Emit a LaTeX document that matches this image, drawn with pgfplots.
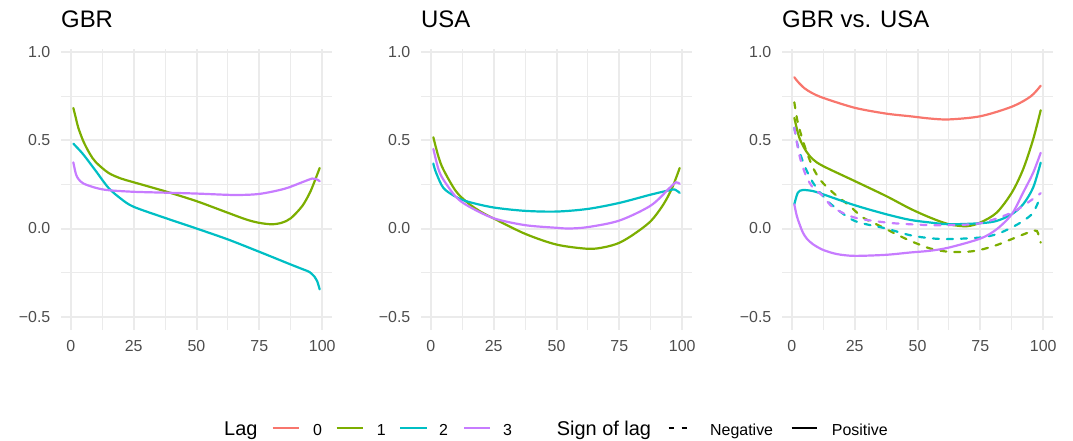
\documentclass[border=0pt]{standalone}
\usepackage{fontspec}
\setmainfont{Liberation Sans}
\usepackage{pgfplots}
\pgfplotsset{compat=1.18}
\definecolor{c0}{HTML}{F8766D}
\definecolor{c1}{HTML}{7CAE00}
\definecolor{c2}{HTML}{00BFC4}
\definecolor{c3}{HTML}{C77CFF}
\definecolor{gr}{HTML}{EBEBEB}
\definecolor{tk}{HTML}{4D4D4D}
\pgfplotsset{
 myax/.style={
  scale only axis, width=271bp, height=281bp, anchor=south west,
  xmin=-3.9, xmax=103.9, ymin=-0.575, ymax=1.017,
  axis line style={draw=none}, major tick style={draw=none}, minor tick style={draw=none},
  xtick={0,25,50,75,100}, xticklabels={0,25,50,75,100},
  ytick={-0.5,0,0.5,1}, yticklabels={−0.5,0.0,0.5,1.0},
  minor xtick={12.5,37.5,62.5,87.5}, minor ytick={-0.25,0.25,0.75},
  grid=both, major grid style={gr, line width=2bp}, minor grid style={gr, line width=1bp},
  /pgf/number format/assume math mode=true,
  ticklabel style={font=\fontsize{16}{19}\selectfont, text=tk},
  yticklabel style={inner sep=0pt, anchor=east, xshift=-10.5bp},
  xticklabel style={inner sep=0pt, anchor=north, yshift=-10.5bp},
  title style={at={(0,1)}, anchor=base west, yshift=16bp, inner sep=0pt, font=\fontsize{24}{28}\selectfont},
  every axis plot/.append style={line width=2.2bp, smooth, line cap=round},
 },
 neg/.style={dash pattern=on 6bp off 8bp}
}
\begin{document}
\begin{tikzpicture}
\path[use as bounding box] (0bp,0bp) rectangle (1073bp,441bp);
% GBR
\begin{axis}[myax, at={(61bp,111bp)}, title={GBR}]
\addplot[c1] coordinates {(1,0.683) (2,0.626) (3,0.57) (5,0.494) (7.5,0.425) (10,0.375) (15,0.315) (20,0.283) (25,0.262) (37.5,0.211) (50,0.155) (62.5,0.089) (70,0.05) (75,0.032) (80,0.024) (84,0.033) (87.5,0.058) (92,0.126) (95,0.2) (97,0.268) (99,0.343)};
\addplot[c2] coordinates {(1,0.481) (2,0.466) (5,0.419) (10,0.325) (15,0.23) (20,0.168) (25,0.123) (37.5,0.06) (50,0.0) (62.5,-0.062) (75,-0.132) (87.5,-0.204) (92.5,-0.232) (95,-0.247) (97,-0.274) (98,-0.298) (99,-0.345)};
\addplot[c3] coordinates {(1,0.375) (2,0.31) (3,0.281) (5,0.255) (10,0.23) (15,0.217) (25,0.208) (37.5,0.203) (50,0.198) (65,0.19) (75,0.196) (85,0.225) (92,0.262) (96,0.283) (97.5,0.281) (99,0.268)};
\end{axis}
% USA
\begin{axis}[myax, at={(421bp,111bp)}, title={USA}]
\addplot[c1] coordinates {(1,0.517) (3,0.409) (5,0.334) (10,0.211) (15,0.142) (20,0.094) (25,0.057) (37.5,-0.03) (50,-0.091) (62.5,-0.115) (69,-0.106) (75,-0.081) (81,-0.03) (87.5,0.042) (92.5,0.136) (96,0.23) (99,0.343)};
\addplot[c2] coordinates {(1,0.368) (2,0.32) (5,0.23) (10,0.179) (15,0.151) (25,0.119) (37.5,0.1) (50,0.096) (62.5,0.111) (75,0.145) (87.5,0.192) (95,0.217) (97,0.221) (99,0.202)};
\addplot[c3] coordinates {(1,0.451) (3,0.338) (5,0.277) (10,0.179) (15,0.126) (25,0.058) (37.5,0.019) (50,0.004) (55,0.0) (62.5,0.008) (75,0.045) (87.5,0.13) (95,0.23) (97.5,0.262) (99,0.253)};
\end{axis}
% GBR vs USA
\begin{axis}[myax, at={(782bp,111bp)}, title={GBR vs. USA}]
\addplot[c0] coordinates {(1,0.857) (2.5,0.83) (5,0.795) (8,0.768) (12.5,0.74) (25,0.684) (37.5,0.651) (47,0.636) (55,0.623) (62.5,0.618) (75,0.636) (87.5,0.69) (95,0.748) (99,0.809)};
\addplot[c1] coordinates {(1,0.627) (3,0.514) (5.7,0.438) (8.4,0.392) (12.4,0.354) (25,0.269) (37.5,0.184) (47,0.113) (55,0.062) (62.5,0.024) (69.6,0.013) (75,0.034) (81.5,0.09) (87.5,0.203) (92,0.335) (96,0.505) (99,0.67)};
\addplot[c1,neg] coordinates {(1,0.715) (2.4,0.599) (5.1,0.467) (8.4,0.345) (11.7,0.269) (16.4,0.203) (23,0.128) (28.3,0.062) (35,0.015) (45.6,-0.06) (55,-0.113) (62.5,-0.132) (69.6,-0.132) (75,-0.121) (81.5,-0.094) (87.5,-0.06) (94.8,-0.019) (97.5,-0.014) (99,-0.08)};
\addplot[c2] coordinates {(1,0.137) (2.4,0.203) (4.4,0.218) (8.4,0.212) (12.4,0.194) (25,0.132) (37.5,0.081) (47,0.049) (55,0.034) (62.5,0.024) (75,0.03) (81.5,0.043) (87.5,0.081) (92,0.137) (96,0.232) (99,0.373)};
\addplot[c2,neg] coordinates {(1,0.571) (2.4,0.467) (5.1,0.354) (8.4,0.26) (12.4,0.184) (16.4,0.128) (25,0.043) (37.5,0.0) (47,-0.038) (55,-0.055) (62.5,-0.06) (75,-0.051) (81.5,-0.032) (87.5,0.006) (92,0.043) (96,0.09) (99,0.184)};
\addplot[c3] coordinates {(1,0.137) (2,0.07) (3.2,0.02) (4.4,-0.023) (6,-0.058) (8.4,-0.089) (12.4,-0.121) (18,-0.145) (25,-0.155) (37.5,-0.149) (47,-0.136) (55,-0.126) (62.5,-0.108) (75,-0.057) (81.5,-0.004) (87.5,0.081) (92,0.203) (96,0.316) (99,0.429)};
\addplot[c3,neg] coordinates {(1,0.571) (3.1,0.41) (5.7,0.297) (8.4,0.232) (12.4,0.184) (16.4,0.119) (25,0.062) (37.5,0.034) (47,0.024) (55,0.019) (62.5,0.019) (75,0.03) (87.5,0.09) (94.8,0.156) (99,0.2)};
\end{axis}
% legend
\begin{scope}[x=1bp, y=1bp, every node/.style={anchor=base west, inner sep=0pt}]
\node[font=\fontsize{20}{24}\selectfont] at (224,6) {Lag};
\draw[c0, line width=2.2bp] (272.7,12.7) -- (299.3,12.7);
\node[font=\fontsize{16}{19}\selectfont] at (313,6) {0};
\draw[c1, line width=2.2bp] (336.7,12.7) -- (363.3,12.7);
\node[font=\fontsize{16}{19}\selectfont] at (376.7,6) {1};
\draw[c2, line width=2.2bp] (400,12.7) -- (426.7,12.7);
\node[font=\fontsize{16}{19}\selectfont] at (439,6) {2};
\draw[c3, line width=2.2bp] (464,12.7) -- (490,12.7);
\node[font=\fontsize{16}{19}\selectfont] at (503,6) {3};
\node[font=\fontsize{20}{24}\selectfont] at (556.7,6) {Sign of lag};
\draw[black, line width=2.2bp, dash pattern=on 5bp off 8bp] (668.5,12.7) -- (693.3,12.7);
\node[font=\fontsize{16}{19}\selectfont] at (710,6) {Negative};
\draw[black, line width=2.2bp] (791.7,12.7) -- (817.3,12.7);
\node[font=\fontsize{16}{19}\selectfont] at (831.7,6) {Positive};
\end{scope}
\end{tikzpicture}
\end{document}
